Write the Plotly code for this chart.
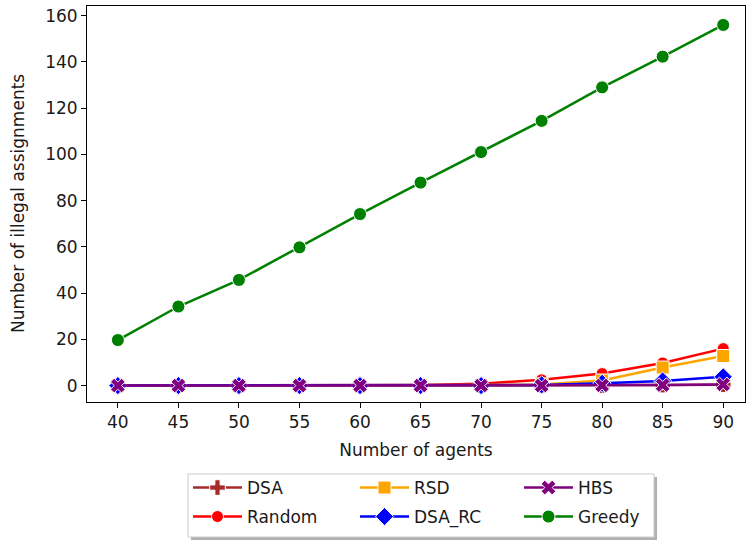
import plotly.graph_objects as go

agents = [40, 45, 50, 55, 60, 65, 70, 75, 80, 85, 90]
dsa = [0, 0, 0, 0, 0, 0, 0, 0, 0, 0.2, 0.4]
random_vals = [0, 0, 0, 0, 0, 0.3, 0.8, 2.5, 5.2, 9.8, 16]
rsd = [0, 0, 0, 0, 0, 0, 0.2, 0.5, 2.2, 7.8, 12.8]
dsa_rc = [0, 0, 0, 0, 0, 0, 0, 0.3, 1.0, 2.0, 3.8]
hbs = [0, 0, 0, 0, 0, 0, 0, 0, 0.1, 0.2, 0.5]
greedy = [19.7, 34.2, 45.7, 59.8, 74.2, 87.8, 101, 114.5, 129, 142.3, 156]

series = [
    ("DSA", dsa, "#a52a2a", "cross", 13),
    ("Random", random_vals, "#ff0000", "circle", 12),
    ("RSD", rsd, "#ffa500", "square", 13),
    ("DSA_RC", dsa_rc, "#0000ff", "diamond", 14),
    ("HBS", hbs, "#800080", "x", 13),
    ("Greedy", greedy, "#008000", "circle", 13),
]

slots = {"DSA": (0, 0), "Random": (0, 1), "RSD": (1, 0), "DSA_RC": (1, 1),
         "HBS": (2, 0), "Greedy": (2, 1)}

W, H = 747, 540
L, R, T, B = 87, 745, 6, 402
pw, ph = R - L, B - T

def px(x):
    return (x - L) / pw

def py(y):
    return (B - y) / ph

def cx(x):
    return x / W

def cy(y):
    return 1 - y / H

col_x = [193, 360, 524]
row_y = [488, 517]

FS = 17
font = dict(family="DejaVu Sans", size=FS, color="#1a1a1a")

fig = go.Figure()
layout_legends = {}
for i, (name, vals, color, sym, size) in enumerate(series):
    key = "legend" if i == 0 else f"legend{i+1}"
    c, r = slots[name]
    fig.add_trace(go.Scatter(
        x=agents, y=vals, name=name, mode="lines+markers",
        line=dict(color=color, width=2.5),
        marker=dict(symbol=sym, size=size, color=color,
                    line=dict(color="white", width=1)),
        legend=key,
    ))
    layout_legends[key] = dict(
        xref="container", yref="container",
        x=cx(col_x[c] - 5), y=cy(row_y[r]), xanchor="left", yanchor="middle",
        bgcolor="rgba(0,0,0,0)", borderwidth=0,
        font=font, itemwidth=49,
    )

fig.update_layout(
    width=W, height=H,
    margin=dict(l=L, r=W - R, t=T, b=H - B, autoexpand=False),
    plot_bgcolor="white", paper_bgcolor="white",
    font=font,
    showlegend=True,
    **layout_legends,
    xaxis=dict(
        range=[37.45, 91.8], tickmode="array", tickvals=agents,
        ticks="outside", ticklen=5, tickcolor="black",
        showline=True, linecolor="black", linewidth=1, mirror=True,
        showgrid=False, zeroline=False,
        title=dict(text="Number of agents", font=font, standoff=12),
    ),
    yaxis=dict(
        range=[-7.1, 164.2], tickmode="array", tickvals=list(range(0, 161, 20)),
        ticks="outside", ticklen=5, tickcolor="black",
        showline=True, linecolor="black", linewidth=1, mirror=True,
        showgrid=False, zeroline=False,
    ),
    annotations=[
        dict(text="Number of illegal assignments", xref="paper", yref="paper",
             x=px(18), y=0.5, xanchor="center", yanchor="middle",
             textangle=-90, showarrow=False, font=font),
    ],
    shapes=[
        dict(type="rect", xref="paper", yref="paper",
             x0=px(191), x1=px(657), y0=py(540), y1=py(477),
             fillcolor="#b0b0b0", line=dict(width=0), layer="below"),
        dict(type="rect", xref="paper", yref="paper",
             x0=px(188), x1=px(654), y0=py(537), y1=py(474),
             fillcolor="white", line=dict(color="#cccccc", width=1), layer="below"),
    ],
)

fig.write_html("out.html",
               config={"displayModeBar": False},
               post_script="document.body.style.margin='0';document.body.style.overflow='hidden';")
